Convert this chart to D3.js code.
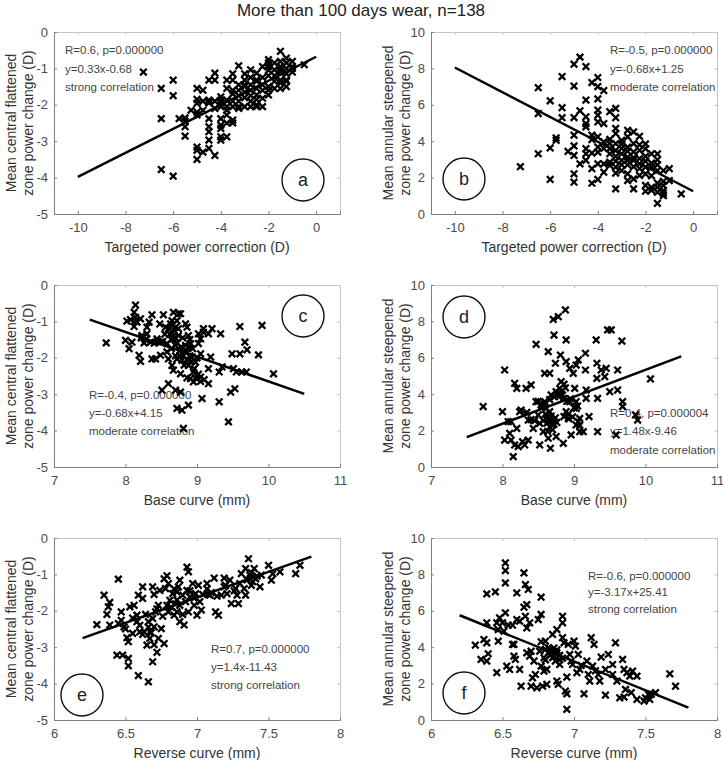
<!DOCTYPE html>
<html><head><meta charset="utf-8">
<script src="https://cdn.jsdelivr.net/npm/d3@7/dist/d3.min.js"></script>
<style>body{margin:0;background:#fff}svg{display:block;font-family:"Liberation Sans",Arial,sans-serif}</style>
</head><body><svg id="chart" width="723" height="760"></svg>
<script>
// ---------------- DATA ----------------
const chartTitle = "More than 100 days wear, n=138";

const targetedTicks = [-10, -8, -6, -4, -2, 0];
const baseTicks = [7, 8, 9, 10, 11];
const reverseTicks = [6, 6.5, 7, 7.5, 8];
const centralTicks = [-5, -4, -3, -2, -1, 0];
const annularTicks = [0, 2, 4, 6, 8, 10];

const targetedDomain = [-11, 1];
const baseDomain = [7, 11];
const reverseDomain = [6, 8];
const centralDomain = [-5, 0];
const annularDomain = [0, 10];

const xLabelTargeted = "Targeted power correction (D)";
const xLabelBase = "Base curve (mm)";
const xLabelReverse = "Reverse curve (mm)";
const yLabelCentral = ["Mean central flattened", "zone power change (D)"];
const yLabelAnnular = ["Mean annular steepened", "zone power change (D)"];

const panelLetters = ["a", "b", "c", "d", "e", "f"];

const statsA = ["R=0.6, p=0.000000", "y=0.33x-0.68", "strong correlation"];
const statsB = ["R=-0.5, p=0.000000", "y=-0.68x+1.25", "moderate correlation"];
const statsC = ["R=-0.4, p=0.000000", "y=-0.68x+4.15", "moderate correlation"];
const statsD = ["R=0.4, p=0.000004", "y=1.48x-9.46", "moderate correlation"];
const statsE = ["R=0.7, p=0.000000", "y=1.4x-11.43", "strong correlation"];
const statsF = ["R=-0.6, p=0.000000", "y=-3.17x+25.41", "strong correlation"];

// fit lines: [slope, intercept, xStart, xEnd]
const fitA = [0.33, -0.68, -10, 0];
const fitB = [-0.68, 1.25, -10, 0];
const fitC = [-0.68, 4.15, 7.5, 10.5];
const fitD = [1.48, -9.46, 7.5, 10.5];
const fitE = [1.4, -11.43, 6.2, 7.8];
const fitF = [-3.17, 25.41, 6.2, 7.8];

const ptsA = [[-7.25,-1.1],[-6.5,-1.55],[-6.5,-2.38],[-6.5,-3.78],[-6,-1.32],[-6,-1.75],[-6,-3.96],[-5.75,-2.38],[-5.5,-2.6],[-5.5,-2.36],[-5.5,-2.86],[-5.25,-2.15],[-5,-1.55],[-5,-1.85],[-5,-1.96],[-5,-2.28],[-5,-3.16],[-5,-3.25],[-5,-3.5],[-4.75,-1.6],[-4.75,-3.3],[-4.5,-1.32],[-4.5,-1.87],[-4.5,-2.38],[-4.5,-2.6],[-4.5,-2.74],[-4.5,-2.97],[-4.5,-3.2],[-4.25,-1.13],[-4.25,-1.32],[-4.25,-3.39],[-4,-1.87],[-4,-1.78],[-4,-2.38],[-4,-2.56],[-4,-2.65],[-4,-2.88],[-4,-2.97],[-4,-2.05],[-3.75,-1.32],[-3.75,-1.87],[-3.75,-2.15],[-3.75,-2.28],[-3.75,-2.88],[-3.5,-2.42],[-3.5,-1.32],[-3.5,-1.6],[-3.5,-1.7],[-3.25,-0.93],[-3.25,-1.6],[-3.25,-2.05],[-3,-1.32],[-3,-1.5],[-3,-2.05],[-2.75,-1.04],[-2.75,-1.6],[-2.75,-2.05],[-2.5,-1.13],[-2.5,-1.32],[-2.5,-1.73],[-2.5,-2.0],[-2.25,-0.95],[-2.25,-1.45],[-2.25,-1.82],[-2.25,-2.05],[-2,-0.76],[-2,-0.95],[-2,-1.5],[-2,-1.73],[-1.75,-1.04],[-1.75,-1.55],[-1.5,-0.53],[-1.5,-0.81],[-1.5,-1.04],[-1.5,-1.32],[-1.5,-1.55],[-1.25,-0.72],[-1.25,-1.0],[-1.25,-1.32],[-1,-0.81],[-1,-1.0],[-0.5,-0.9],
[-3.75,-1.55],[-3.5,-1.9],[-3.5,-2.05],[-3.25,-1.45],[-3.25,-1.75],[-3.25,-1.9],[-3,-1.65],[-3,-1.8],[-3,-1.15],[-2.75,-1.25],[-2.75,-1.45],[-2.75,-1.75],[-2.75,-1.9],[-2.5,-1.55],[-2.5,-2.05],[-2.25,-1.25],[-2.25,-1.6],[-2,-1.2],[-2,-1.6],[-2,-1.05],[-1.75,-1.2],[-1.75,-1.35],[-1.75,-0.85],[-1.5,-1.1],[-1.5,-0.95],[-1.25,-1.15],[-1.25,-0.85],[-1,-1.1],[-1.25,-1.5],[-3.5,-1.15],[-3.75,-2.05],[-4,-1.95],[-4.25,-2.1],[-4.25,-1.9],[-4.5,-1.95],[-4.75,-1.9],[-4.75,-2.15],[-5,-2.2],[-5.5,-2.45],[-3.75,-2.5],[-3.5,-2.5],[-2.5,-1.35],[-3,-1.45],[-1.5,-1.4],[-1.25,-1.35],[-1,-0.95],[-2,-0.85],[-2.5,-1.85],[-3.25,-2.1]];

const ptsB = [[-7.25,2.6],[-6.5,6.94],[-6.5,5.52],[-6.5,3.31],[-6,6.22],[-6,3.63],[-6,1.9],[-5.75,4.18],[-5.75,4.05],[-5.5,7.55],[-5.5,5.84],[-5.5,5.29],[-5.25,3.44],[-5,8.23],[-5,7.03],[-5,5.3],[-5,4.33],[-5,3.74],[-5,3.22],[-5,2.21],[-5,1.75],[-4.75,8.62],[-4.75,5.67],[-4.75,2.76],[-4.5,8.1],[-4.5,6.26],[-4.5,5.34],[-4.5,4.97],[-4.5,4.79],[-4.5,3.59],[-4.5,3.31],[-4.5,2.95],[-4.25,7.22],[-4.25,4.33],[-4.25,4.09],[-4.25,2.49],[-4.25,1.69],[-4,7.5],[-4,7.0],[-4,6.32],[-4,5.71],[-4,5.43],[-4,5.06],[-4,4.24],[-4,3.68],[-4,2.76],[-4,1.9],[-3.75,6.78],[-3.75,4.97],[-3.75,3.96],[-3.75,2.76],[-3.75,2.3],[-3.5,5.62],[-3.5,3.59],[-3.5,3.31],[-3.5,3.87],[-3.5,2.67],[-3.25,5.8],[-3.25,5.29],[-3.25,4.7],[-3.25,4.42],[-3.25,3.87],[-3.25,3.17],[-3.25,2.58],[-3.25,2.25],[-3.25,1.38],[-3,4.05],[-3,3.31],[-3,2.95],[-3,2.39],[-2.75,4.6],[-2.75,4.24],[-2.75,3.68],[-2.75,3.13],[-2.75,2.21],[-2.75,1.84],[-2.5,4.51],[-2.5,3.87],[-2.5,3.41],[-2.5,2.95],[-2.5,1.93],[-2.5,1.38],[-2.25,4.27],[-2.25,3.5],[-2.25,2.76],[-2.25,2.12],[-2,3.59],[-2,3.17],[-2,2.58],[-2,1.57],[-2,1.25],[-1.75,3.31],[-1.75,2.58],[-1.75,1.47],[-1.5,2.98],[-1.5,2.39],[-1.5,1.47],[-1.5,1.2],[-1.5,0.59],[-1.25,2.39],[-1.25,1.57],[-1.25,1.29],[-1.25,1.01],[-1,2.49],[-1,1.84],[-0.5,1.1],
[-3.5,4.1],[-3.25,3.5],[-3,3.6],[-3,3.85],[-2.75,2.7],[-2.75,2.95],[-2.5,2.6],[-2.5,3.1],[-2.25,3.05],[-2.25,2.5],[-2,2.9],[-2,2.2],[-1.75,2.8],[-1.75,2.1],[-1.5,2.7],[-1.25,1.8],[-3.5,2.85],[-3,2.7],[-3.25,2.9],[-2.25,3.8],[-1.5,1.7],[-1.25,1.15],[-1.75,1.3],[-4,3.4],[-4.25,3.35],[-3.75,3.6],[-2.75,3.45],[-2,3.85],[-1.5,3.3]];

const ptsC = [[7.73,-1.59],[8.0,-1.52],[8.05,-1.75],[8.02,-0.99],[8.07,-0.95],[8.09,-1.57],[8.14,-0.55],[8.12,-0.75],[8.14,-0.89],[8.16,-1.02],[8.12,-1.14],[8.19,-1.93],[8.21,-2.1],[8.21,-0.93],[8.23,-1.39],[8.26,-1.59],[8.3,-1.16],[8.3,-1.34],[8.33,-1.02],[8.35,-1.57],[8.37,-0.82],[8.37,-2.03],[8.42,-2.03],[8.44,-1.48],[8.48,-1.07],[8.49,-1.57],[8.49,-1.93],[8.51,-2.89],[8.53,-0.82],[8.56,-1.16],[8.58,-1.61],[8.58,-1.84],[8.6,-2.03],[8.6,-2.71],[8.63,-1.07],[8.65,-0.98],[8.65,-1.3],[8.65,-2.21],[8.67,-2.34],[8.67,-1.48],[8.67,-0.75],[8.7,-1.16],[8.7,-1.66],[8.7,-2.89],[8.72,-0.98],[8.72,-2.03],[8.72,-3.39],[8.74,-0.79],[8.74,-1.39],[8.77,-2.94],[8.79,-3.44],[8.77,-0.79],[8.76,-1.8],[8.77,-2.44],[8.79,-2.07],[8.81,-1.93],[8.81,-3.94],[8.84,-1.07],[8.84,-1.66],[8.86,-1.16],[8.86,-1.84],[8.88,-3.3],[8.88,-1.39],[8.88,-2.21],[8.91,-1.61],[8.91,-2.57],[8.93,-1.98],[8.95,-2.39],[8.95,-2.66],[8.98,-2.12],[9.0,-2.57],[9.02,-1.34],[9.02,-1.61],[9.05,-1.48],[9.05,-1.89],[9.05,-2.53],[9.07,-3.12],[9.09,-1.2],[9.09,-1.3],[9.16,-1.34],[9.16,-2.3],[9.16,-2.71],[9.19,-1.98],[9.21,-1.2],[9.31,-3.21],[9.31,-2.39],[9.33,-1.34],[9.35,-2.25],[9.44,-3.76],[9.47,-2.94],[9.49,-1.89],[9.51,-2.3],[9.53,-2.85],[9.55,-2.39],[9.6,-1.14],[9.6,-1.89],[9.63,-2.39],[9.67,-1.57],[9.69,-2.39],[9.7,-1.78],[9.86,-1.92],[9.91,-1.11],[10.07,-2.44],
[8.6,-1.2],[8.62,-1.35],[8.64,-1.5],[8.66,-1.1],[8.68,-1.25],[8.7,-1.45],[8.72,-1.6],[8.74,-1.2],[8.76,-1.95],[8.78,-1.7],[8.8,-1.45],[8.82,-2.2],[8.84,-1.85],[8.86,-2.05],[8.88,-1.7],[8.9,-1.95],[8.92,-2.1],[8.94,-1.75],[8.96,-2.3],[9.0,-2.0],[9.02,-2.45],[8.55,-1.35],[8.52,-1.55],[8.45,-1.55],[8.4,-1.6],[8.15,-1.0],[8.22,-1.45],[8.28,-1.5],[8.9,-1.5],[8.7,-1.95],[8.64,-1.75],[9.1,-2.6],[9.05,-2.65],[8.98,-2.55],[8.86,-2.55]];

const ptsD = [[7.73,3.32],[8.0,3.04],[8.03,5.33],[8.03,1.48],[8.08,2.49],[8.1,1.85],[8.12,1.48],[8.12,2.49],[8.15,0.57],[8.17,1.21],[8.17,4.6],[8.2,4.32],[8.2,2.12],[8.22,1.12],[8.24,3.04],[8.26,3.13],[8.28,1.39],[8.31,1.21],[8.33,4.32],[8.36,1.48],[8.36,2.58],[8.4,4.51],[8.43,2.12],[8.47,6.74],[8.47,3.59],[8.5,2.86],[8.52,2.4],[8.52,1.21],[8.54,3.41],[8.57,1.94],[8.59,3.59],[8.61,3.22],[8.59,5.15],[8.61,2.67],[8.64,6.34],[8.64,1.58],[8.66,5.15],[8.66,3.04],[8.67,1.03],[8.68,3.96],[8.68,2.49],[8.7,2.31],[8.71,8.11],[8.72,7.25],[8.73,3.86],[8.74,5.7],[8.75,1.67],[8.75,4.14],[8.78,8.26],[8.8,4.32],[8.81,6.15],[8.82,4.69],[8.85,1.3],[8.86,3.77],[8.86,2.77],[8.88,8.63],[8.89,6.98],[8.89,5.79],[8.89,3.04],[8.92,2.67],[8.94,5.42],[8.94,3.59],[8.96,1.76],[8.99,5.15],[9.01,4.32],[9.03,5.6],[9.03,3.59],[9.03,3.22],[9.03,2.31],[9.06,5.88],[9.06,2.49],[9.08,1.94],[9.08,2.67],[9.13,1.94],[9.16,6.25],[9.16,5.33],[9.17,4.23],[9.17,3.77],[9.21,2.77],[9.31,6.98],[9.32,5.7],[9.32,4.87],[9.33,1.94],[9.33,3.77],[9.38,5.33],[9.43,4.96],[9.45,5.42],[9.47,7.53],[9.52,7.53],[9.5,4.14],[9.59,1.76],[9.61,5.33],[9.61,4.23],[9.67,6.92],[9.68,3.59],[9.68,3.32],[9.86,2.86],[9.89,2.58],[10.07,4.84],
[8.55,3.3],[8.58,3.45],[8.6,2.9],[8.62,2.4],[8.64,2.6],[8.66,2.2],[8.68,2.8],[8.7,2.55],[8.72,2.35],[8.74,2.7],[8.76,2.45],[8.78,3.9],[8.8,4.1],[8.84,3.95],[8.88,4.35],[8.9,3.6],[8.92,2.9],[8.95,3.75],[8.98,2.75],[9.05,3.35],[9.08,2.3],[8.5,3.6],[8.45,2.55],[8.66,3.7],[8.7,2.05],[8.63,1.95],[8.57,2.55],[8.86,4.55],[8.82,4.0],[9.0,3.25],[8.93,2.65],[8.4,2.6],[8.34,3.0]];

const ptsE = [[6.3,-2.38],[6.35,-1.57],[6.37,-2.1],[6.38,-1.89],[6.39,-1.77],[6.39,-2.39],[6.44,-3.22],[6.45,-1.13],[6.47,-2.26],[6.47,-2.03],[6.48,-3.22],[6.49,-2.44],[6.51,-2.74],[6.52,-3.31],[6.52,-3.51],[6.52,-2.85],[6.53,-1.89],[6.55,-2.62],[6.56,-1.85],[6.58,-2.12],[6.58,-2.3],[6.59,-1.57],[6.59,-3.78],[6.6,-2.58],[6.62,-1.66],[6.62,-1.34],[6.63,-2.58],[6.65,-2.94],[6.66,-2.3],[6.66,-3.95],[6.67,-2.76],[6.67,-2.58],[6.69,-2.21],[6.69,-1.34],[6.69,-3.4],[6.7,-2.93],[6.7,-2.44],[6.71,-2.03],[6.72,-3.14],[6.73,-1.85],[6.73,-2.76],[6.74,-1.44],[6.75,-2.49],[6.77,-1.12],[6.77,-2.9],[6.78,-1.39],[6.79,-1.85],[6.79,-1.04],[6.8,-1.25],[6.8,-2.03],[6.81,-1.71],[6.83,-1.53],[6.84,-2.12],[6.85,-1.81],[6.86,-1.48],[6.86,-2.03],[6.87,-1.34],[6.88,-1.16],[6.88,-2.3],[6.9,-1.57],[6.91,-2.39],[6.92,-1.75],[6.93,-0.8],[6.93,-1.44],[6.94,-0.93],[6.94,-2.03],[6.95,-1.62],[6.97,-1.25],[6.98,-1.85],[6.99,-1.53],[7.0,-2.12],[7.01,-1.3],[7.02,-1.75],[7.03,-1.98],[7.07,-1.25],[7.08,-1.55],[7.09,-1.57],[7.12,-1.1],[7.13,-2.03],[7.15,-2.12],[7.17,-1.57],[7.19,-1.34],[7.19,-1.1],[7.21,-1.53],[7.23,-1.16],[7.24,-1.8],[7.27,-1.39],[7.28,-1.57],[7.29,-1.8],[7.31,-0.98],[7.33,-1.39],[7.34,-0.84],[7.34,-1.57],[7.36,-0.57],[7.37,-1.02],[7.38,-1.3],[7.4,-0.84],[7.41,-1.12],[7.44,-1.34],[7.45,-1.02],[7.5,-0.75],[7.52,-1.16],[7.53,-0.98],[7.58,-0.93],[7.69,-0.98],[7.72,-0.75],
[6.55,-2.2],[6.6,-2.4],[6.64,-2.1],[6.68,-2.6],[6.72,-1.95],[6.76,-2.15],[6.82,-1.9],[6.86,-1.7],[6.9,-2.1],[6.95,-1.45],[6.98,-1.65],[7.04,-1.55],[7.1,-1.5],[7.14,-1.6],[7.2,-1.3],[7.26,-1.45],[7.35,-1.15],[7.38,-0.95],[7.39,-1.2],[7.42,-1.05],[7.3,-1.25],[6.5,-2.5],[6.45,-2.35],[6.62,-2.65],[6.66,-2.45],[6.7,-1.55],[6.84,-1.4],[6.88,-1.85],[7.07,-1.4],[7.37,-1.12]];

const ptsF = [[6.31,4.11],[6.35,3.33],[6.37,4.42],[6.39,3.24],[6.39,4.24],[6.39,6.93],[6.39,5.34],[6.4,3.64],[6.45,7.04],[6.46,5.34],[6.46,2.6],[6.47,4.33],[6.47,4.97],[6.48,5.61],[6.5,5.34],[6.51,4.88],[6.52,5.89],[6.52,8.63],[6.52,8.21],[6.52,7.53],[6.53,2.96],[6.54,5.21],[6.55,2.78],[6.57,4.15],[6.57,5.21],[6.58,3.51],[6.58,4.15],[6.59,3.33],[6.6,6.98],[6.6,5.52],[6.62,2.78],[6.62,5.43],[6.63,1.86],[6.65,6.2],[6.65,8.08],[6.66,7.44],[6.66,5.7],[6.67,3.69],[6.67,6.34],[6.67,5.06],[6.68,7.17],[6.69,3.51],[6.69,5.34],[6.7,1.86],[6.7,3.78],[6.71,2.32],[6.72,3.24],[6.73,2.5],[6.74,1.77],[6.75,5.52],[6.76,3.78],[6.77,2.96],[6.77,6.75],[6.77,5.8],[6.77,4.3],[6.78,1.86],[6.79,2.69],[6.79,3.42],[6.8,3.88],[6.8,4.33],[6.81,1.96],[6.81,2.78],[6.82,3.97],[6.83,3.88],[6.84,3.6],[6.85,4.7],[6.85,3.42],[6.87,3.24],[6.88,3.69],[6.88,4.97],[6.88,2.14],[6.89,1.96],[6.9,3.33],[6.9,3.05],[6.92,5.7],[6.92,5.34],[6.92,4.52],[6.93,4.24],[6.94,1.59],[6.95,2.36],[6.95,1.44],[6.95,0.59],[6.96,4.15],[6.97,3.6],[6.98,3.24],[6.99,3.05],[7.0,4.33],[7.01,4.06],[7.02,2.6],[7.03,3.6],[7.04,2.78],[7.07,1.44],[7.09,3.24],[7.1,2.5],[7.11,2.14],[7.12,4.52],[7.13,2.96],[7.14,4.15],[7.17,2.5],[7.18,2.14],[7.19,3.46],[7.22,2.78],[7.22,1.37],[7.24,3.6],[7.27,3.05],[7.27,2.5],[7.29,4.24],[7.3,2.14],[7.32,1.22],[7.34,3.33],[7.35,2.78],[7.35,1.26],[7.36,1.68],[7.37,2.6],[7.39,2.41],[7.4,1.5],[7.41,2.69],[7.44,1.13],[7.44,2.41],[7.49,1.04],[7.5,1.22],[7.52,1.41],[7.53,1.13],[7.54,1.41],[7.57,1.5],[7.67,2.54],[7.71,1.86],
[6.84,3.75],[6.86,3.5],[6.88,3.85],[6.82,3.7],[6.86,3.95],[6.9,3.55],[6.8,3.3],[6.92,3.4],[7.05,3.0],[7.15,2.7]];

// ---------------- LAYOUT ----------------
const svg = d3.select("#chart");
const PW = 286, PH = 182;
const colLeft = [54, 431];
const rowTop = [32, 285, 538];
const FONT = '"Liberation Sans", Arial, sans-serif';

svg.append("text").attr("x", 361).attr("y", 16).attr("text-anchor", "middle")
  .attr("font-size", 17).attr("fill", "#222").text(chartTitle);

const panels = [
  {pts: ptsA, xd: targetedDomain, xt: targetedTicks, yd: centralDomain, yt: centralTicks, xl: xLabelTargeted, yl: yLabelCentral, stats: statsA, fit: fitA, col: 0, row: 0, tx: 11, ty: [18, 36.5, 55], cx: 249, cy: 148},
  {pts: ptsB, xd: targetedDomain, xt: targetedTicks, yd: annularDomain, yt: annularTicks, xl: xLabelTargeted, yl: yLabelAnnular, stats: statsB, fit: fitB, col: 1, row: 0, tx: 179, ty: [18, 36.5, 55], cx: 33, cy: 147},
  {pts: ptsC, xd: baseDomain, xt: baseTicks, yd: centralDomain, yt: centralTicks, xl: xLabelBase, yl: yLabelCentral, stats: statsC, fit: fitC, col: 0, row: 1, tx: 35, ty: [109.5, 127.5, 146], cx: 249, cy: 31},
  {pts: ptsD, xd: baseDomain, xt: baseTicks, yd: annularDomain, yt: annularTicks, xl: xLabelBase, yl: yLabelAnnular, stats: statsD, fit: fitD, col: 1, row: 1, tx: 179, ty: [127.5, 146, 164.5], cx: 33, cy: 32},
  {pts: ptsE, xd: reverseDomain, xt: reverseTicks, yd: centralDomain, yt: centralTicks, xl: xLabelReverse, yl: yLabelCentral, stats: statsE, fit: fitE, col: 0, row: 2, tx: 157, ty: [110.5, 129, 147], cx: 28, cy: 157},
  {pts: ptsF, xd: reverseDomain, xt: reverseTicks, yd: annularDomain, yt: annularTicks, xl: xLabelReverse, yl: yLabelAnnular, stats: statsF, fit: fitF, col: 1, row: 2, tx: 157, ty: [37.5, 54, 70.5], cx: 33, cy: 155}
];

const xmark = "M-3.3,-3.3L3.3,3.3M-3.3,3.3L3.3,-3.3";

panels.forEach((p, i) => {
  const L = colLeft[p.col], T = rowTop[p.row];
  const g = svg.append("g").attr("transform", `translate(${L},${T})`);
  const x = d3.scaleLinear().domain(p.xd).range([0, PW]);
  const y = d3.scaleLinear().domain(p.yd).range([PH, 0]);

  const fmt = d => String(d);
  const axTop = g.append("g").call(d3.axisTop(x).tickValues(p.xt).tickSize(-3).tickFormat(""));
  const axRight = g.append("g").attr("transform", `translate(${PW},0)`).call(d3.axisRight(y).tickValues(p.yt).tickSize(-3).tickFormat(""));
  [axTop, axRight].forEach(a => { a.selectAll("path,line").attr("stroke", "#c4c4c4"); });

  const axB = g.append("g").attr("transform", `translate(0,${PH})`)
    .call(d3.axisBottom(x).tickValues(p.xt).tickSize(-3).tickPadding(9).tickFormat(fmt));
  const axL = g.append("g").call(d3.axisLeft(y).tickValues(p.yt).tickSize(-3).tickPadding(6).tickFormat(fmt));
  [axB, axL].forEach(a => {
    a.selectAll("path,line").attr("stroke", "#808080");
    a.selectAll("text").attr("font-size", 13).attr("fill", "#4a4a4a").attr("font-family", FONT);
  });

  g.append("text").attr("x", PW / 2).attr("y", PH + 38).attr("text-anchor", "middle")
    .attr("font-size", 14).attr("fill", "#333").text(p.xl);
  const yl = g.append("text").attr("transform", `translate(${-38},${PH / 2}) rotate(-90)`)
    .attr("text-anchor", "middle").attr("font-size", 14).attr("fill", "#333");
  yl.append("tspan").attr("x", 0).attr("dy", 0).text(p.yl[0]);
  yl.append("tspan").attr("x", 0).attr("dy", 17).text(p.yl[1]);

  p.stats.forEach((s, k) => {
    g.append("text").attr("x", p.tx).attr("y", p.ty[k]).attr("dy", "0.35em")
      .attr("font-size", 11.5).attr("fill", "#444").text(s);
  });

  g.append("circle").attr("cx", p.cx).attr("cy", p.cy).attr("r", 21)
    .attr("fill", "none").attr("stroke", "#111").attr("stroke-width", 1.4);
  g.append("text").attr("x", p.cx).attr("y", p.cy).attr("dy", "0.35em").attr("text-anchor", "middle")
    .attr("font-size", 18).attr("fill", "#222").text(panelLetters[i]);

  const [m, b, x0, x1] = p.fit;
  g.append("line").attr("x1", x(x0)).attr("y1", y(m * x0 + b)).attr("x2", x(x1)).attr("y2", y(m * x1 + b))
    .attr("stroke", "#000").attr("stroke-width", 2.5);

  g.append("g").selectAll("path").data(p.pts).join("path")
    .attr("transform", d => `translate(${x(d[0])},${y(d[1])})`)
    .attr("d", xmark).attr("stroke", "#000").attr("stroke-width", 2.3).attr("fill", "none");
});
</script></body></html>
